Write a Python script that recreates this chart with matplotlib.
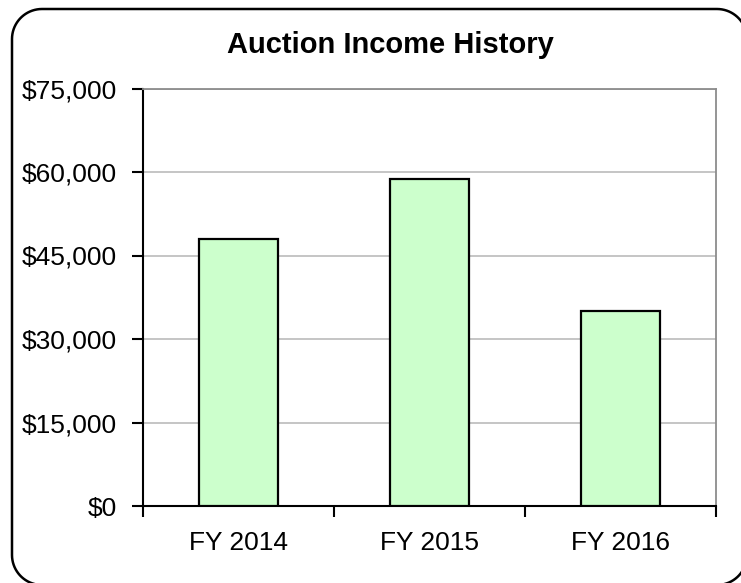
import matplotlib.pyplot as plt
from matplotlib.ticker import FuncFormatter, FixedLocator, NullFormatter
import numpy as np

plt.rcParams['font.family'] = ['Liberation Sans', 'DejaVu Sans']

categories = ['FY 2014', 'FY 2015', 'FY 2016']
income = [48000, 58800, 35000]
y_ticks = [0, 15000, 30000, 45000, 60000, 75000]

fig = plt.figure(figsize=(7.41, 5.83), dpi=100)
ax = fig.add_axes([143/741, 1 - 506/583, 573/741, 417.5/583])

x = np.arange(len(categories))
ax.bar(x, income, width=0.41, color='#CCFFCC', edgecolor='black', linewidth=1.6, zorder=3)

ax.set_xlim(-0.5, len(categories) - 0.5)
ax.set_ylim(0, 75000)
ax.set_yticks(y_ticks)
ax.yaxis.set_major_formatter(FuncFormatter(lambda v, p: '${:,.0f}'.format(v)))
ax.grid(axis='y', color='#C0C0C0', linewidth=1.3, zorder=0)

# Kategorie-Ticks zwischen den Balken, Beschriftung mittig darunter
ax.xaxis.set_major_locator(FixedLocator(np.arange(-0.5, len(categories), 1.0)))
ax.xaxis.set_major_formatter(NullFormatter())
ax.xaxis.set_minor_locator(FixedLocator(x))
ax.set_xticklabels(categories, minor=True)
ax.tick_params(axis='x', which='minor', length=0, pad=18, labelsize=19)
ax.tick_params(axis='x', which='major', length=8, width=1.5, direction='out')
ax.tick_params(axis='y', length=8, width=1.5, direction='out', pad=11, labelsize=19)

ax.spines['left'].set_linewidth(1.5)
ax.spines['bottom'].set_linewidth(1.5)
ax.spines['top'].set_color('#8C8C8C')
ax.spines['right'].set_color('#8C8C8C')
ax.spines['top'].set_linewidth(1.3)
ax.spines['right'].set_linewidth(1.3)

fig.text(390/741, 1 - 45/583, 'Auction Income History', ha='center', va='center',
         fontsize=21, fontweight='bold')


def rounded_rect(left, bottom, right, top, r):
    # Eckpunkte im Gegenuhrzeigersinn, jede Ecke als Viertelkreis
    pts = []
    corners = [(right - r, top - r, 0), (left + r, top - r, 90),
               (left + r, bottom + r, 180), (right - r, bottom + r, 270)]
    for cx, cy, start in corners:
        t = np.radians(np.linspace(start, start + 90, 20))
        pts.append(np.column_stack([cx + r*np.cos(t), cy + r*np.sin(t)]))
    pts = np.vstack(pts + [pts[0][:1]])
    return pts[:, 0], pts[:, 1]


# Rahmen in Pixelkoordinaten, rechts und unten abgeschnitten
frame = fig.add_axes([0, 0, 1, 1], zorder=-1)
frame.set_xlim(0, 741)
frame.set_ylim(0, 583)
frame.axis('off')
bx, by = rounded_rect(12, 583 - 585, 747, 583 - 9, 30)
frame.plot(bx, by, color='black', linewidth=1.8)

fig.savefig('out.png', dpi=100)
